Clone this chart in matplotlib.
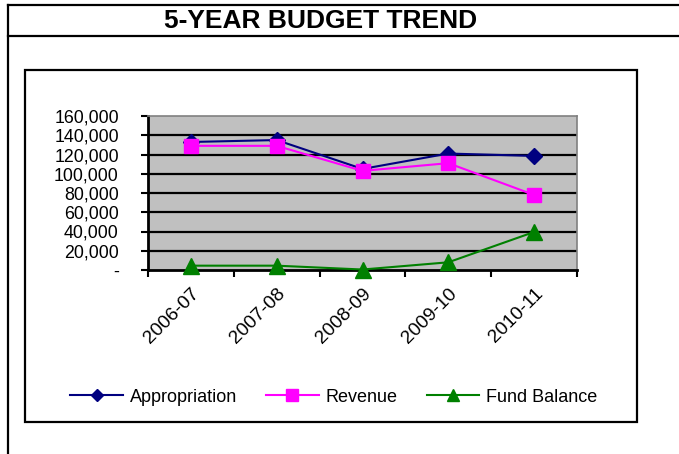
import matplotlib
matplotlib.use("Agg")
import matplotlib.pyplot as plt
from matplotlib.lines import Line2D
from matplotlib.patches import Rectangle

categories = ["2006-07", "2007-08", "2008-09", "2009-10", "2010-11"]
appropriation = [133000, 135000, 105000, 121000, 118500]
revenue = [129000, 129000, 103000, 111000, 78000]
fund_balance = [4500, 4500, 500, 8000, 39500]
y_ticks = [0, 20000, 40000, 60000, 80000, 100000, 120000, 140000, 160000]
y_labels = ["-"] + [f"{v:,}" for v in y_ticks[1:]]

plt.rcParams['font.family'] = ['Liberation Sans', 'DejaVu Sans']

W, H = 679, 454
fig = plt.figure(figsize=(W / 100, H / 100), dpi=100)

def fx(px):
    return px / W

def fy(py):
    return 1 - py / H

# outer frame lines
fig.add_artist(Line2D([fx(8), fx(8)], [fy(5), 0], color="black", lw=1.6, transform=fig.transFigure))
fig.add_artist(Line2D([fx(8), 1], [fy(5), fy(5)], color="black", lw=1.6, transform=fig.transFigure))
fig.add_artist(Line2D([fx(8), 1], [fy(36), fy(36)], color="black", lw=1.6, transform=fig.transFigure))
fig.text(fx(321), fy(21.5), "5-YEAR BUDGET TREND", ha="center", va="center",
         fontsize=19, fontweight="bold")

# inner chart frame
fig.add_artist(Rectangle((fx(25), fy(422)), fx(637) - fx(25), fy(70) - fy(422),
                         fill=False, edgecolor="black", lw=1.6, transform=fig.transFigure))

left, right, top, bottom = 148, 577, 116, 270
ax = fig.add_axes([fx(left), fy(bottom), fx(right) - fx(left), fy(top) - fy(bottom)])
ax.set_facecolor("#C0C0C0")

x = list(range(len(categories)))
ax.plot(x, appropriation, color="#000080", marker="D", markersize=8, lw=1.5,
        label="Appropriation", clip_on=False, zorder=3)
ax.plot(x, revenue, color="#FF00FF", marker="s", markersize=10, lw=1.5,
        label="Revenue", clip_on=False, zorder=4)
ax.plot(x, fund_balance, color="#008000", marker="^", markersize=11, lw=1.5,
        label="Fund Balance", clip_on=False, zorder=5)

ax.set_xlim(-0.5, len(categories) - 0.5)
ax.set_ylim(0, 160000)
ax.set_yticks(y_ticks)
ax.set_yticklabels(y_labels, fontsize=12.8)
for v in y_ticks[1:-1]:
    ax.axhline(v, color="black", lw=1.6, zorder=1)

ax.set_xticks([i - 0.5 for i in range(len(categories) + 1)])
ax.set_xticklabels([])
ax.set_xticks(x, minor=True)
ax.set_xticklabels(categories, minor=True, rotation=45, ha="right", va="top",
                   rotation_mode="anchor", fontsize=13.8)
ax.tick_params(axis="x", which="minor", length=0, pad=11)
ax.tick_params(axis="x", which="major", length=5, width=1.5, direction="out")
ax.tick_params(axis="y", length=5, width=1.5, direction="out", pad=16)

for s in ["left", "bottom"]:
    ax.spines[s].set_color("black")
    ax.spines[s].set_linewidth(2)
for s in ["top", "right"]:
    ax.spines[s].set_color("#808080")
    ax.spines[s].set_linewidth(1.2)

fig.legend(loc="center", bbox_to_anchor=(fx(334), fy(397)), ncol=3, frameon=False,
           fontsize=13, handlelength=2.9, handletextpad=0.4, columnspacing=1.6,
           markerscale=0.8)

fig.savefig("out.png", dpi=100)
